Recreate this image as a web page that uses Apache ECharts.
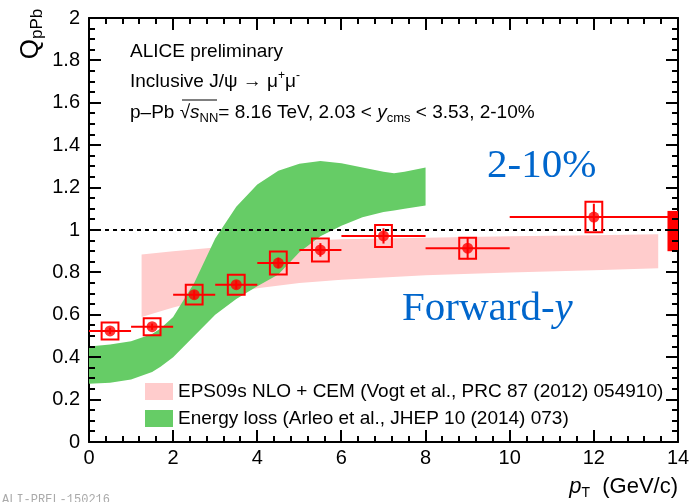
<!DOCTYPE html>
<html><head><meta charset="utf-8">
<script src="https://cdn.jsdelivr.net/npm/echarts@6/dist/echarts.min.js"></script>
<style>html,body{margin:0;padding:0;background:#fff}#c{width:691px;height:502px}</style>
</head><body><div id="c"></div>
<script>
// ---- data ----
const xTickLabels = ['0','2','4','6','8','10','12','14'];
const yTickLabels = ['0','0.2','0.4','0.6','0.8','1','1.2','1.4','1.6','1.8','2'];
const xMajorTicks = [0, 2, 4, 6, 8, 10, 12, 14];
const xMinorTicks = [0.4, 0.8, 1.2, 1.6, 2.4, 2.8, 3.2, 3.6, 4.4, 4.8, 5.2, 5.6, 6.4, 6.8, 7.2, 7.6,
                     8.4, 8.8, 9.2, 9.6, 10.4, 10.8, 11.2, 11.6, 12.4, 12.8, 13.2, 13.6];
const yMajorTicks = [0, 0.2, 0.4, 0.6, 0.8, 1, 1.2, 1.4, 1.6, 1.8, 2];
const yMinorTicks = [0.05, 0.1, 0.15, 0.25, 0.3, 0.35, 0.45, 0.5, 0.55, 0.65, 0.7, 0.75, 0.85, 0.9, 0.95,
                     1.05, 1.1, 1.15, 1.25, 1.3, 1.35, 1.45, 1.5, 1.55, 1.65, 1.7, 1.75, 1.85, 1.9, 1.95];

const binCenter = [0.5, 1.5, 2.5, 3.5, 4.5, 5.5, 7, 9, 12];
const binLow    = [0, 1, 2, 3, 4, 5, 6, 8, 10];
const binHigh   = [1, 2, 3, 4, 5, 6, 8, 10, 14];
const qpPb      = [0.524, 0.544, 0.695, 0.742, 0.844, 0.906, 0.972, 0.914, 1.061];
const statErr   = [0.015, 0.015, 0.02, 0.02, 0.025, 0.032, 0.036, 0.052, 0.063];
const sysErr    = [0.04, 0.04, 0.047, 0.047, 0.054, 0.054, 0.052, 0.05, 0.072];

const globalLow = 0.90, globalHigh = 1.09;

const eps09X    = [1.25, 2, 3, 4, 5, 6, 8, 10, 12, 13.53];
const eps09Low  = [0.59, 0.635, 0.685, 0.725, 0.75, 0.765, 0.787, 0.80, 0.81, 0.82];
const eps09High = [0.885, 0.90, 0.918, 0.935, 0.948, 0.956, 0.964, 0.97, 0.975, 0.98];

const elossX    = [0, 0.5, 1, 1.5, 1.7, 2, 2.5, 3, 3.5, 4, 4.5, 5, 5.5, 6, 6.5, 7, 7.25, 7.5, 8];
const elossLow  = [0.275, 0.28, 0.295, 0.33, 0.355, 0.40, 0.50, 0.60, 0.675, 0.735, 0.79, 0.895, 0.97, 1.02, 1.06, 1.085, 1.092, 1.10, 1.115];
const elossHigh = [0.45, 0.46, 0.475, 0.51, 0.535, 0.59, 0.75, 0.96, 1.11, 1.215, 1.28, 1.313, 1.325, 1.315, 1.295, 1.275, 1.268, 1.275, 1.295];

const EPS_NAME = 'EPS09s NLO + CEM (Vogt et al., PRC 87 (2012) 054910)';
const ELOSS_NAME = 'Energy loss (Arleo et al., JHEP 10 (2014) 073)';

// ---- styles ----
const FONT = '"Liberation Sans", Arial, Helvetica, sans-serif';
const SERIF = '"Liberation Serif", "Times New Roman", serif';
const RED = '#ff0000';
const PINK = '#ffcccc';
const GREEN = '#66cc66';
const BLUE = '#0066cc';
const BOX_HALF = 0.2;
const GLOBAL_W = 0.25;
const X_MIN = 0, X_MAX = 14, Y_MIN = 0, Y_MAX = 2;
const MAJOR_LEN = 12, MINOR_LEN = 6;

function bandRender(xs, lo, hi, color) {
  return function (params, api) {
    if (params.dataIndex !== 0) return;
    const pts = [];
    for (let i = 0; i < xs.length; i++) pts.push(api.coord([xs[i], hi[i]]));
    for (let i = xs.length - 1; i >= 0; i--) pts.push(api.coord([xs[i], lo[i]]));
    return { type: 'polygon', shape: { points: pts }, style: { fill: color } };
  };
}

function frameTicks(params, api) {
  if (params.dataIndex !== 0) return;
  const ch = [];
  const seg = (p, dx, dy) => ch.push({ type: 'line',
    shape: { x1: Math.round(p[0]), y1: Math.round(p[1]), x2: Math.round(p[0]) + dx, y2: Math.round(p[1]) + dy },
    style: { stroke: '#000000', lineWidth: 2, opacity: 1 } });
  xMajorTicks.forEach(v => { seg(api.coord([v, Y_MIN]), 0, -MAJOR_LEN); seg(api.coord([v, Y_MAX]), 0, MAJOR_LEN); });
  xMinorTicks.forEach(v => { seg(api.coord([v, Y_MIN]), 0, -MINOR_LEN); seg(api.coord([v, Y_MAX]), 0, MINOR_LEN); });
  yMajorTicks.forEach(v => { seg(api.coord([X_MIN, v]), MAJOR_LEN, 0); seg(api.coord([X_MAX, v]), -MAJOR_LEN, 0); });
  yMinorTicks.forEach(v => { seg(api.coord([X_MIN, v]), MINOR_LEN, 0); seg(api.coord([X_MAX, v]), -MINOR_LEN, 0); });
  return { type: 'group', children: ch };
}

function axisBase(extra) {
  return Object.assign({
    type: 'value',
    axisLine: { show: true, onZero: false, lineStyle: { color: '#000', width: 2 } },
    axisTick: { show: false },
    minorTick: { show: false },
    splitLine: { show: false },
    minorSplitLine: { show: false }
  }, extra);
}

const chart = echarts.init(document.getElementById('c'));

const option = {
  animation: false,
  grid: { left: 89, right: 13, top: 18, bottom: 60, containLabel: false, outerBoundsMode: 'none' },
  xAxis: [
    axisBase({
      min: X_MIN, max: X_MAX, interval: 2, position: 'bottom',
      axisLabel: { fontSize: 20, color: '#000', fontFamily: FONT, margin: 6,
        formatter: v => xTickLabels[Math.round(v / 2)] }
    }),
    axisBase({ min: X_MIN, max: X_MAX, interval: 2, position: 'top', axisLabel: { show: false } })
  ],
  yAxis: [
    axisBase({
      min: Y_MIN, max: Y_MAX, interval: 0.2, position: 'left',
      axisLabel: { fontSize: 20, color: '#000', fontFamily: FONT, margin: 9,
        formatter: v => yTickLabels[Math.round(v / 0.2)] }
    }),
    axisBase({ min: Y_MIN, max: Y_MAX, interval: 0.2, position: 'right', axisLabel: { show: false } })
  ],
  legend: {
    orient: 'vertical', left: 140, top: 377,
    itemWidth: 28, itemHeight: 17, itemGap: 8,
    selectedMode: false,
    textStyle: { fontSize: 19, fontFamily: FONT, color: '#000', lineHeight: 17 },
    data: [
      { name: EPS_NAME, icon: 'rect', itemStyle: { color: PINK } },
      { name: ELOSS_NAME, icon: 'rect', itemStyle: { color: GREEN } }
    ]
  },
  series: [
    {
      name: EPS_NAME, type: 'custom', z: 1,
      itemStyle: { color: PINK },
      data: eps09X.map((x, i) => [x, eps09Low[i], eps09High[i]]),
      encode: { x: 0, y: [1, 2] },
      renderItem: bandRender(eps09X, eps09Low, eps09High, PINK)
    },
    {
      name: ELOSS_NAME, type: 'custom', z: 2,
      itemStyle: { color: GREEN },
      data: elossX.map((x, i) => [x, elossLow[i], elossHigh[i]]),
      encode: { x: 0, y: [1, 2] },
      renderItem: bandRender(elossX, elossLow, elossHigh, GREEN)
    },
    {
      name: 'unity', type: 'line', z: 3, symbol: 'none', silent: true,
      data: [[X_MIN, 1], [X_MAX, 1]],
      lineStyle: { color: '#000', width: 2, type: [4, 4] }
    },
    {
      name: 'global', type: 'custom', z: 4,
      data: [[X_MAX, globalLow, globalHigh]],
      encode: { x: 0, y: [1, 2] },
      renderItem: function (params, api) {
        const tl = api.coord([api.value(0) - GLOBAL_W, api.value(2)]);
        const br = api.coord([api.value(0), api.value(1)]);
        return { type: 'rect', shape: { x: tl[0], y: tl[1], width: br[0] - tl[0], height: br[1] - tl[1] },
          style: { fill: RED } };
      }
    },
    {
      name: 'errors', type: 'custom', z: 5,
      data: binCenter.map((x, i) => [x, qpPb[i]]),
      encode: { x: 0, y: 1 },
      renderItem: function (params, api) {
        const i = params.dataIndex;
        const x = api.value(0), y = api.value(1);
        const l = api.coord([binLow[i], y]), r = api.coord([binHigh[i], y]);
        const st = api.coord([x, y + statErr[i]]), sb = api.coord([x, y - statErr[i]]);
        const tl = api.coord([x - BOX_HALF, y + sysErr[i]]), br = api.coord([x + BOX_HALF, y - sysErr[i]]);
        return { type: 'group', children: [
          { type: 'line', shape: { x1: l[0], y1: l[1], x2: r[0], y2: r[1] }, style: { stroke: RED, lineWidth: 2 } },
          { type: 'line', shape: { x1: st[0], y1: st[1], x2: sb[0], y2: sb[1] }, style: { stroke: RED, lineWidth: 2 } },
          { type: 'rect', shape: { x: tl[0], y: tl[1], width: br[0] - tl[0], height: br[1] - tl[1] },
            style: { fill: 'none', stroke: RED, lineWidth: 2 } }
        ] };
      }
    },
    {
      name: 'data', type: 'scatter', z: 6, symbol: 'circle', symbolSize: 11,
      itemStyle: { color: RED },
      data: binCenter.map((x, i) => [x, qpPb[i]])
    },
    {
      name: 'frameTicks', type: 'custom', z: 10, silent: true, clip: false,
      data: [[X_MIN, Y_MIN]],
      encode: { x: 0, y: 1 },
      renderItem: frameTicks
    }
  ],
  graphic: [
    { type: 'text', x: 130, y: 52, style: { text: 'ALICE preliminary', font: '19px ' + FONT, fill: '#000', verticalAlign: 'middle' } },
    { type: 'text', x: 130, y: 82, style: {
      text: '{n|Inclusive J/ψ → μ}{sup|+}{n|μ}{sup|-}',
      verticalAlign: 'middle',
      rich: {
        n: { fontSize: 19, fontFamily: FONT, fill: '#000', lineHeight: 24 },
        sup: { fontSize: 12, fontFamily: FONT, fill: '#000', lineHeight: 12, verticalAlign: 'top' }
      } } },
    { type: 'text', x: 130, y: 113, style: {
      text: '{n|p–Pb }{n|√}{i|s}{sub|NN}{n|= 8.16 TeV, 2.03 < }{i|y}{sub2|cms}{n| < 3.53, 2-10%}',
      verticalAlign: 'middle',
      rich: {
        n: { fontSize: 19, fontFamily: FONT, fill: '#000', lineHeight: 24 },
        i: { fontSize: 19, fontFamily: FONT, fontStyle: 'italic', fill: '#000', lineHeight: 24 },
        sub: { fontSize: 13, fontFamily: FONT, fill: '#000', lineHeight: 14, verticalAlign: 'bottom' },
        sub2: { fontSize: 13, fontFamily: FONT, fill: '#000', lineHeight: 8, verticalAlign: 'bottom' }
      } } },
    { type: 'line', shape: { x1: 182, y1: 100, x2: 217, y2: 100 }, style: { stroke: '#000', lineWidth: 1 } },
    { type: 'text', x: 487, y: 166, style: { text: '2-10%', font: '41px ' + SERIF, fill: BLUE, verticalAlign: 'middle' } },
    { type: 'text', x: 402, y: 309, style: {
      text: '{n|Forward-}{i|y}', verticalAlign: 'middle',
      rich: {
        n: { fontSize: 41, fontFamily: SERIF, fill: BLUE },
        i: { fontSize: 41, fontFamily: SERIF, fontStyle: 'italic', fill: BLUE }
      } } },
    { type: 'text', x: 31, y: 34, rotation: Math.PI / 2, style: {
      text: '{q|Q}{s|pPb}', align: 'center', verticalAlign: 'middle',
      rich: {
        q: { fontSize: 26, fontFamily: FONT, fill: '#000', lineHeight: 30 },
        s: { fontSize: 17, fontFamily: FONT, fill: '#000', lineHeight: 17, verticalAlign: 'bottom' }
      } } },
    { type: 'text', x: 678, y: 487, style: {
      text: '{i|p}{s|T}{n|  (GeV/c)}', align: 'right', verticalAlign: 'middle',
      rich: {
        i: { fontSize: 22, fontFamily: FONT, fontStyle: 'italic', fill: '#000', lineHeight: 26 },
        s: { fontSize: 14, fontFamily: FONT, fill: '#000', lineHeight: 14, verticalAlign: 'bottom' },
        n: { fontSize: 22, fontFamily: FONT, fill: '#000', lineHeight: 26 }
      } } },
    { type: 'text', x: 2, y: 500, style: { text: 'ALI-PREL-150216', font: '12px "Liberation Mono", monospace', fill: '#aaaaaa', verticalAlign: 'middle' } }
  ]
};
chart.setOption(option);
</script>
</body></html>
